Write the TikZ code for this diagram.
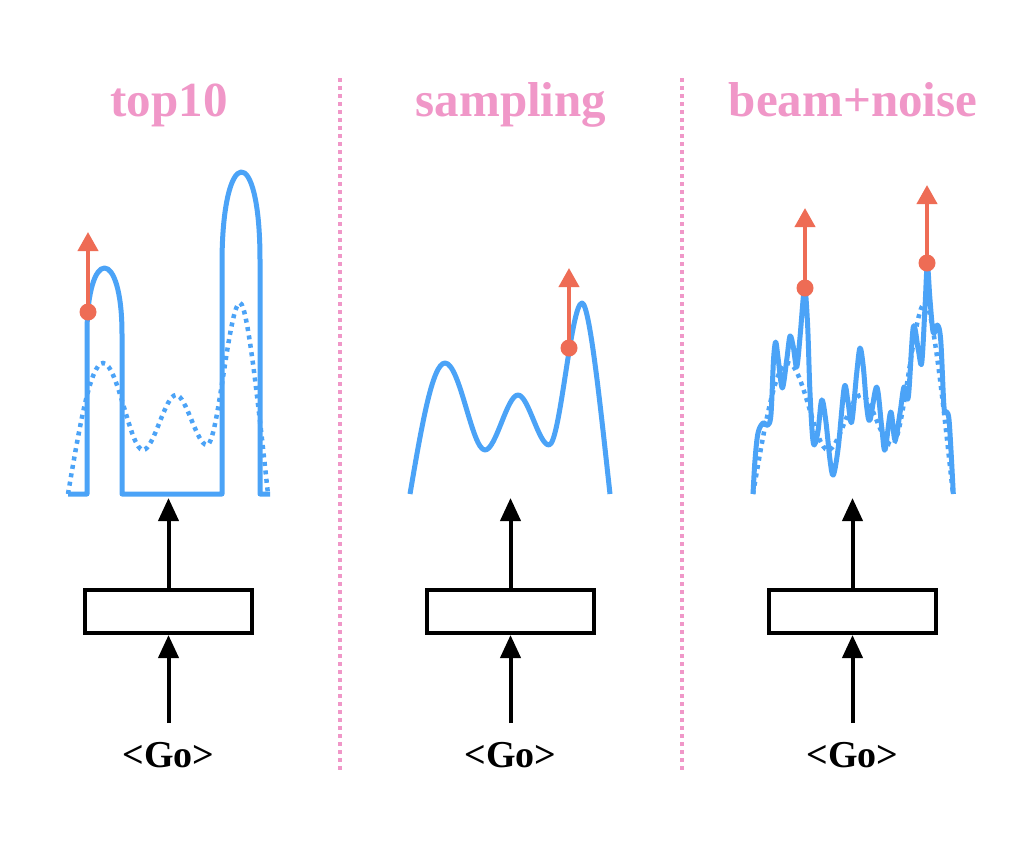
\documentclass[tikz,border=0pt]{standalone}
\usepackage{fontspec}
\setmainfont{Liberation Serif}
\usetikzlibrary{arrows.meta}
\definecolor{cblue}{HTML}{4BA3F7}
\definecolor{cred}{HTML}{EE6C55}
\definecolor{cpink}{HTML}{F097C8}
\begin{document}
\begin{tikzpicture}[x=1pt,y=-1pt,
  curve/.style={cblue, line width=5pt, line join=round},
  dcurve/.style={cblue, line width=4.5pt, dash pattern=on 4pt off 4.5pt},
  encbox/.style={draw=black, line width=4pt, minimum width=167pt, minimum height=43pt, inner sep=0pt},
  blkarrow/.style={line width=4pt, -{Triangle[width=20pt,length=23pt]}},
  reddot/.style={circle, fill=cred, minimum size=17pt, inner sep=0pt},
  redarrow/.style={cred, line width=4pt, -{Triangle[width=20pt,length=19pt]}},
  titlelabel/.style={text=cpink, font=\fontsize{49}{58}\selectfont\bfseries, anchor=base},
  golabel/.style={font=\fontsize{38}{46}\selectfont\bfseries, anchor=base},
  divider/.style={cpink, line width=4pt, dash pattern=on 4pt off 4pt}]
\useasboundingbox[fill=white] (0,0) rectangle (1024,846);

% dividers
\coordinate (v1a) at (339.5,78); \coordinate (v1b) at (339.5,772);
\coordinate (v2a) at (682,78); \coordinate (v2b) at (682,772);
\draw[divider] (v1a) -- (v1b);
\draw[divider] (v2a) -- (v2b);

% titles
\node[titlelabel] (t1) at (169,116) {top10};
\node[titlelabel] (t2) at (511,116) {sampling};
\node[titlelabel] (t3) at (853,116) {beam+noise};

% boxes, labels, arrows
\foreach \i/\cx in {1/168.5, 2/510.5, 3/852.5} {
  \node[encbox] (b\i) at (\cx,611.5) {};
  \node[golabel] (g\i) at (\cx,767) {<Go>};
  \coordinate (c\i) at (\cx,498);
  \draw[blkarrow] (g\i.base) ++(0,-44) -- (b\i.south);
  \draw[blkarrow] (b\i.north) -- (c\i);
}

% panel 1: top10
\begin{scope}[shift={(68,494)}, yscale=-1]
  \draw[dcurve] (0,0) .. controls (11.4,66.9) and (22.4,131) .. (35,131)
     .. controls (50,131) and (62,44) .. (75,44)
     .. controls (86,44) and (97,99) .. (108,99)
     .. controls (118.3,99) and (128.7,49) .. (139,49)
     .. controls (150,49) and (161,191) .. (172,191)
     .. controls (180,191) and (192,72) .. (200,0);
  \draw[curve] (0,0) -- (19,0) -- (19,160) .. controls (19,248) and (54,248) .. (54,160) -- (54,0) -- (154,0) -- (154,230) .. controls (154,350) and (192,354) .. (192,234) -- (192,0) -- (202,0);
\end{scope}

% panel 2: sampling
\begin{scope}[shift={(410,494)}, yscale=-1]
  \draw[curve] (0,0) .. controls (11.4,66.9) and (22.4,131) .. (35,131)
     .. controls (50,131) and (62,44) .. (75,44)
     .. controls (86,44) and (97,99) .. (108,99)
     .. controls (118.3,99) and (128.7,49) .. (139,49)
     .. controls (150,49) and (161,191) .. (172,191)
     .. controls (180,191) and (192,72) .. (200,0);
\end{scope}

% panel 3: beam+noise
\begin{scope}[shift={(753,494)}, yscale=-1]
  \draw[dcurve] (0,0) .. controls (11.4,66.9) and (22.4,131) .. (35,131)
     .. controls (50,131) and (62,44) .. (75,44)
     .. controls (86,44) and (97,99) .. (108,99)
     .. controls (118.3,99) and (128.7,49) .. (139,49)
     .. controls (150,49) and (161,191) .. (172,191)
     .. controls (180,191) and (192,72) .. (200,0);
  \draw[curve] plot[smooth, tension=0.55] coordinates {(0,0) (2,34) (5,61) (10,71) (15,69) (18,80) (20.5,134) (22.7,152) (25.3,134) (29.3,106) (33.7,134) (37,158) (40.3,147) (43.7,127) (47,157) (50.3,197) (52,207) (54.7,167) (57,101) (60.3,51) (64.7,61) (68.7,94) (72.7,74) (77,34) (80.3,19) (85.3,47) (91.3,107) (95,92) (98.7,72) (103.7,121) (107,146) (110.3,127) (113.7,87) (117,74) (123.7,107) (128.7,67) (132,44) (137.7,82) (142,54) (147,81) (151,107) (155.3,97) (160.3,167) (165.3,144) (168.7,131) (172,187) (174.3,229) (177,194) (180.3,161) (184.3,169) (187.7,154) (191,87) (193.7,82) (196.3,71) (200.3,0)};
\end{scope}

% red markers
\node[reddot] (d1) at (88,312) {};
\coordinate (e1) at (88,232);
\node[reddot] (d2) at (569,348) {};
\coordinate (e2) at (569,268);
\node[reddot] (d3) at (805,288) {};
\coordinate (e3) at (805,208);
\node[reddot] (d4) at (927,263) {};
\coordinate (e4) at (927,185);
\foreach \i in {1,2,3,4} \draw[redarrow] (d\i.center) -- (e\i);
\end{tikzpicture}
\end{document}
